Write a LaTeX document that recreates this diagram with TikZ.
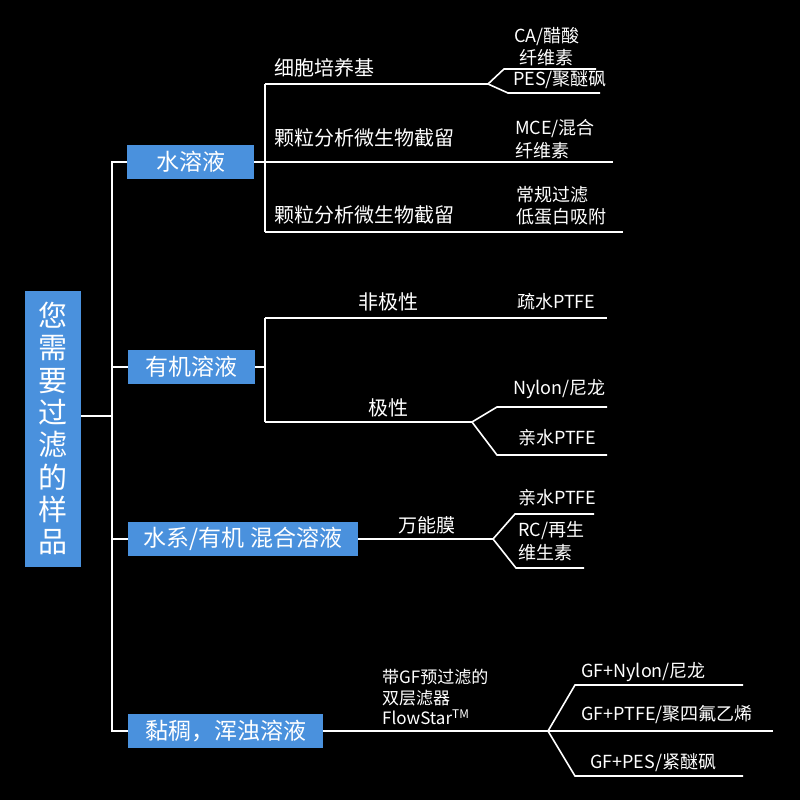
\documentclass[tikz,border=0pt]{standalone}
\usepackage{fontspec}
\newfontfamily\cjk{Noto Sans CJK SC}
\usepackage{tikz}
\usetikzlibrary{positioning,calc}
\definecolor{boxblue}{RGB}{74,145,221}

\begin{document}
\begin{tikzpicture}[
    x=1pt, y=-1pt,
    rootbox/.style={rectangle, fill=boxblue, text=white, minimum width=56pt, minimum height=276pt, inner sep=0pt, align=center, font=\cjk\fontsize{29}{32.3}\selectfont},
    catbox/.style={rectangle, fill=boxblue, text=white, minimum height=34pt, inner sep=0pt, anchor=west, font=\cjk\fontsize{23}{26}\selectfont},
    midlbl/.style={inner sep=0pt, anchor=west, text=white, font=\cjk\fontsize{20}{22}\selectfont},
    endlbl/.style={inner sep=0pt, anchor=west, text=white, align=left, font=\cjk\fontsize{18}{22.5}\selectfont},
    conn/.style={draw=white, line width=1.6pt}
]
\fill[black] (0,0) rectangle (800,800);
\useasboundingbox (0,0) rectangle (800,800);

% Root and trunk
\node[rootbox] (root) at (53,428.5) {您\\需\\要\\过\\滤\\的\\样\\品};
\coordinate (t0) at (112,416);
\node[catbox, minimum width=127pt] (s1) at (127,162) {水溶液};
\node[catbox, minimum width=127pt] (s2) at (128,367) {有机溶液};
\node[catbox, minimum width=230pt] (s3) at (128,539) {水系/有机\hspace{6pt}混合溶液};
\node[catbox, minimum width=195pt] (s4) at (128,731) {黏稠，浑浊溶液};
\draw[conn] (root.east |- t0) -- (t0);
\draw[conn] (s1.west) -- (s1.west -| t0) -- (s4.west -| t0) -- (s4.west);
\draw[conn] (s2.west) -- (s2.west -| t0);
\draw[conn] (s3.west) -- (s3.west -| t0);

% Aqueous branch
\coordinate (a1t) at (265,84);
\coordinate (a1b) at (265,232);
\coordinate (f1) at (488,84);
\coordinate (f1u) at (504,69);
\coordinate (e1u) at (596,69);
\coordinate (f1d) at (508,93);
\coordinate (e1d) at (600,93);
\coordinate (e1m) at (613,162);
\coordinate (e1b) at (623,232);
\draw[conn] (s1.east) -- (e1m);
\draw[conn] (a1t) -- (a1b);
\draw[conn] (a1t) -- (f1) -- (f1u) -- (e1u);
\draw[conn] (f1) -- (f1d) -- (e1d);
\draw[conn] (a1b) -- (e1b);
\node[midlbl] (l11) at (274,68) {细胞培养基};
\node[midlbl] (l12) at (274,138) {颗粒分析微生物截留};
\node[midlbl] (l13) at (274,215) {颗粒分析微生物截留};
\node[endlbl] (m11) at (514,46.5) {CA/醋酸\\\hspace{5pt}纤维素};
\node[endlbl] (m12) at (513,80) {PES/聚醚砜};
\node[endlbl] (m13) at (515,139) {MCE/混合\\纤维素};
\node[endlbl] (m14) at (516,206) {常规过滤\\低蛋白吸附};

% Organic branch
\coordinate (b1t) at (265,318);
\coordinate (b1b) at (265,422);
\coordinate (e2t) at (607,318);
\coordinate (f2) at (472,422);
\coordinate (f2u) at (497,407);
\coordinate (e2u) at (607,407);
\coordinate (f2d) at (497,455);
\coordinate (e2d) at (607,455);
\draw[conn] (s2.east) -- (s2.east -| b1t);
\draw[conn] (b1t) -- (b1b);
\draw[conn] (b1t) -- (e2t);
\draw[conn] (b1b) -- (f2) -- (f2u) -- (e2u);
\draw[conn] (f2) -- (f2d) -- (e2d);
\node[midlbl, anchor=center] (l21) at (388,302) {非极性};
\node[midlbl, anchor=center] (l22) at (388,408) {极性};
\node[endlbl] (m21) at (517,302) {疏水PTFE};
\node[endlbl] (m22) at (513,389) {Nylon/尼龙};
\node[endlbl] (m23) at (518,438) {亲水PTFE};

% Mixed branch
\coordinate (f3) at (493,539);
\coordinate (f3u) at (515,514);
\coordinate (e3u) at (594,514);
\coordinate (f3d) at (516,568);
\coordinate (e3d) at (584,568);
\draw[conn] (s3.east) -- (f3);
\draw[conn] (f3) -- (f3u) -- (e3u);
\draw[conn] (f3) -- (f3d) -- (e3d);
\node[midlbl, font=\cjk\fontsize{19}{22}\selectfont] (l31) at (398,525) {万能膜};
\node[endlbl] (m31) at (518,498) {亲水PTFE};
\node[endlbl] (m32) at (518,541) {RC/再生\\维生素};

% Viscous branch
\coordinate (f4) at (548,731);
\coordinate (f4u) at (575,685);
\coordinate (e4u) at (743,685);
\coordinate (e4m) at (773,731);
\coordinate (f4d) at (575,776);
\coordinate (e4d) at (743,776);
\draw[conn] (s4.east) -- (f4) -- (e4m);
\draw[conn] (f4) -- (f4u) -- (e4u);
\draw[conn] (f4) -- (f4d) -- (e4d);
\node[endlbl, font=\cjk\fontsize{17}{20.5}\selectfont] (l41) at (382,697) {带GF预过滤的\\双层滤器\\FlowStar\textsuperscript{TM}};
\node[endlbl] (m41) at (581,672) {GF+Nylon/尼龙};
\node[endlbl] (m42) at (581,715) {GF+PTFE/聚四氟乙烯};
\node[endlbl] (m43) at (590,763) {GF+PES/紧醚砜};

\end{tikzpicture}
\end{document}
